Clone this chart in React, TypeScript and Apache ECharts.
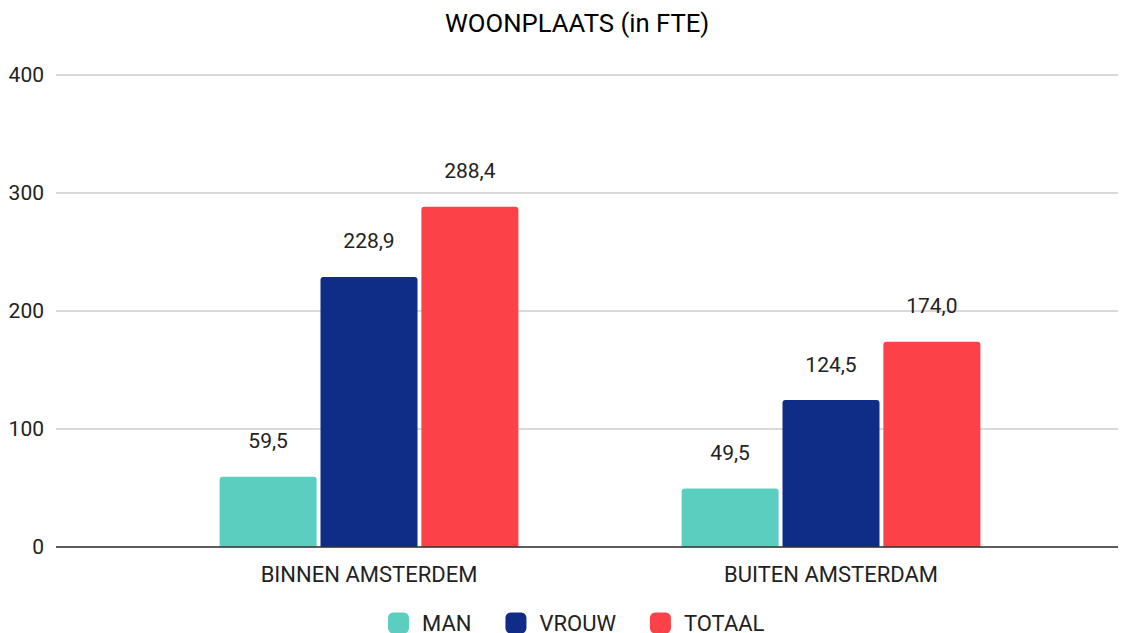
import React, { useEffect, useRef } from "react";
import * as echarts from "echarts";

const categories = ["BINNEN AMSTERDEM", "BUITEN AMSTERDAM"];
const seriesNames = ["MAN", "VROUW", "TOTAAL"];
const manValues = [59.5, 49.5];
const vrouwValues = [228.9, 124.5];
const totaalValues = [288.4, 174.0];
const colors = ["#5bcebf", "#0f2c87", "#fc4149"];
const yTicks = [0, 100, 200, 300, 400];

export default function App() {
  const ref = useRef<HTMLDivElement>(null);
  useEffect(() => {
    const chart = echarts.init(ref.current!, null, { renderer: "svg" });
    const font = "Roboto, 'Noto Sans', sans-serif";
    const values = [manValues, vrouwValues, totaalValues];
    chart.setOption({
      animation: false,
      textStyle: { fontFamily: font },
      title: {
        text: "WOONPLAATS (in FTE)",
        left: 440,
        top: 5,
        textStyle: { fontSize: 25.7, fontWeight: "normal", color: "#000", fontFamily: font },
      },
      legend: {
        left: 388,
        top: 612,
        padding: 0,
        itemWidth: 21,
        itemHeight: 21,
        itemGap: 34,
        icon: "roundRect",
        textStyle: {
          fontSize: 22,
          lineHeight: 20,
          color: "#222",
          fontFamily: font,
          padding: [0, 0, 0, 8],
        },
        data: seriesNames,
      },
      grid: [
        { left: 56, right: 14, top: 75, bottom: 86 },
        { left: 138, right: 70, top: 75, bottom: 86 },
      ],
      xAxis: [
        { type: "category", gridIndex: 0, data: categories, show: false },
        {
          type: "category",
          gridIndex: 1,
          data: categories,
          axisTick: { show: false },
          axisLine: { show: false },
          axisLabel: { fontSize: 22, color: "#222", margin: 16, fontFamily: font },
        },
      ],
      yAxis: [
        {
          type: "value",
          gridIndex: 0,
          min: yTicks[0],
          max: yTicks[yTicks.length - 1],
          interval: 100,
          axisLabel: { fontSize: 21, color: "#222", margin: 12, fontFamily: font },
          splitLine: { lineStyle: { color: "#cccccc", width: 1.5 } },
          axisLine: { show: false },
          axisTick: { show: false },
        },
        {
          type: "value",
          gridIndex: 1,
          min: 0,
          max: 400,
          interval: 100,
          show: false,
        },
      ],
      series: [
        ...seriesNames.map((name, i) => ({
          name,
          type: "bar",
          xAxisIndex: 1,
          yAxisIndex: 1,
          data: values[i],
          barWidth: 97,
          barGap: "4%",
          itemStyle: { color: colors[i], borderRadius: [3, 3, 0, 0] },
          label: {
            show: true,
            position: "top",
            distance: 25,
            fontSize: 21,
            color: "#222",
            fontFamily: font,
            formatter: (p: any) => p.value.toFixed(1).replace(".", ","),
          },
        })),
        {
          type: "line",
          xAxisIndex: 0,
          yAxisIndex: 0,
          data: [],
          silent: true,
          markLine: {
            symbol: "none",
            silent: true,
            label: { show: false },
            lineStyle: { color: "#333", width: 1.5, type: "solid" },
            data: [{ yAxis: 0 }],
          },
        },
      ],
    });
    return () => chart.dispose();
  }, []);
  return (
    <div
      ref={ref}
      style={{ position: "absolute", left: 0, top: 0, width: 1132, height: 633, background: "#fff" }}
    />
  );
}
